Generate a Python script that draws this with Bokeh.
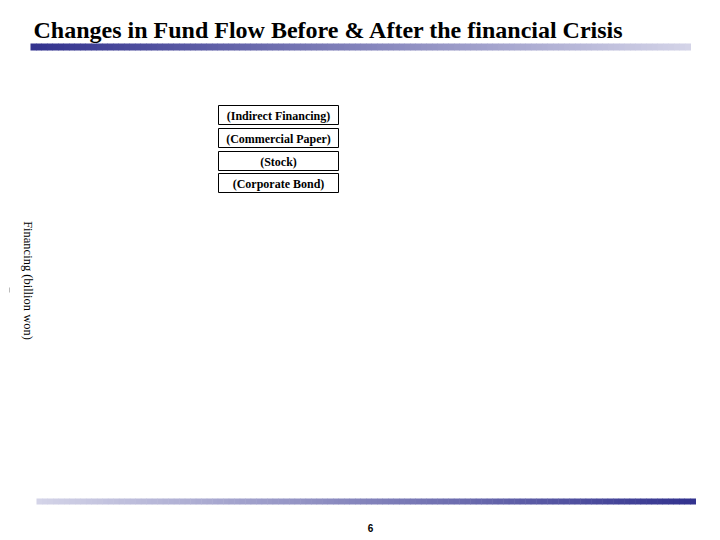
import numpy as np
from bokeh.plotting import figure
from bokeh.models import Range1d, ColumnDataSource
from bokeh.core.properties import value
from bokeh.embed import file_html
from bokeh.resources import INLINE

title_text = "Changes in Fund Flow Before & After the financial  Crisis"
box_labels = ["(Indirect Financing)", "(Commercial Paper)", "(Stock)", "(Corporate Bond)"]
y_label = "Financing (billion won)"
page_no = "6"

# page coordinates == screen pixels
p = figure(width=712, height=532, output_backend="svg", toolbar_location=None,
           x_range=Range1d(0, 712), y_range=Range1d(532, 0), min_border=0)
p.axis.visible = False
p.grid.visible = False
p.outline_line_color = None
p.background_fill_color = "white"


def ramp(c0, c1, n):
    a = np.array(c0, dtype=float)
    b = np.array(c1, dtype=float)
    out = []
    for t in np.linspace(0, 1, n):
        r, g, bb = (a + (b - a) * t).astype(int)
        out.append("#%02x%02x%02x" % (r, g, bb))
    return out


def gradient_bar(x0, x1, y0, y1, c0, c1, n=120):
    xs = np.linspace(x0, x1, n + 1)
    src = ColumnDataSource(dict(left=xs[:-1], right=xs[1:] + 0.5,
                                top=[y0] * n, bottom=[y1] * n,
                                color=ramp(c0, c1, n)))
    p.quad(left="left", right="right", top="top", bottom="bottom",
           fill_color="color", line_color=None, source=src)


dark = (0x33, 0x33, 0x8f)
light = (0xd4, 0xd4, 0xe8)

# title and its bar
p.text(x=[33], y=[29], text=[title_text], text_font=value("Liberation Serif"),
       text_font_style="bold", text_font_size="24px", text_color="black",
       text_baseline="middle", text_align="left")
gradient_bar(30, 690, 43, 50, dark, light)

# legend-style boxes
box_tops = [105, 128, 151, 173]
box_h = 19
src = ColumnDataSource(dict(left=[218] * 4, right=[338] * 4, top=box_tops,
                            bottom=[t + box_h for t in box_tops],
                            xc=[278] * 4, yc=[t + box_h / 2 + 0.5 for t in box_tops],
                            label=box_labels))
p.quad(left="left", right="right", top="top", bottom="bottom", source=src,
       fill_color="white", line_color="black", line_width=1)
p.text(x="xc", y="yc", text="label", source=src, text_font=value("Liberation Serif"),
       text_font_style="bold", text_font_size="12px", text_align="center",
       text_baseline="middle", text_color="black")

# rotated y label
p.text(x=[27], y=[280], text=[y_label], text_font=value("Liberation Serif"),
       text_font_size="12.5px", text_align="center", text_baseline="middle",
       angle=-np.pi / 2, text_color="black")
p.segment(x0=[9], y0=[287], x1=[9], y1=[292], line_color="#bbbbbb", line_width=1)

# bottom bar and page number
gradient_bar(36, 695, 498, 504, light, dark)
p.text(x=[370], y=[527], text=[page_no], text_font=value("Liberation Sans"),
       text_font_style="bold", text_font_size="10px", text_align="center",
       text_baseline="middle", text_color="black")

open("out.html", "w").write(file_html(p, INLINE))
